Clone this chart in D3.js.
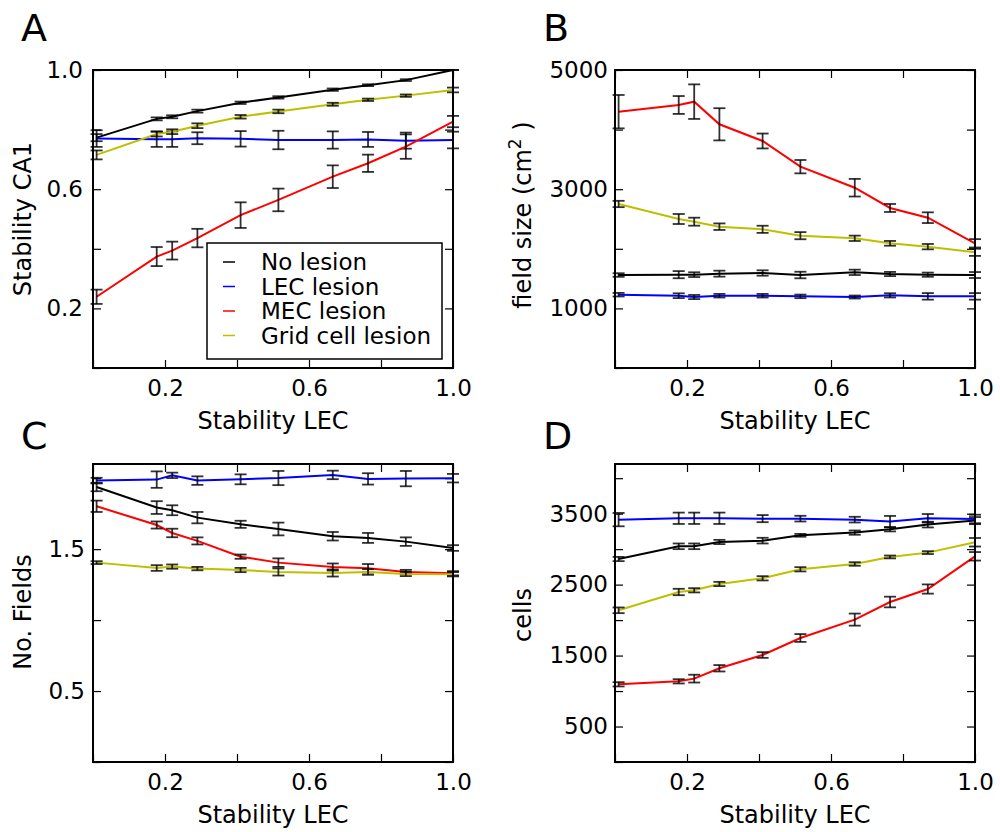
<!DOCTYPE html>
<html lang="en">
<head>
	<meta charset="utf-8">
	<title>Lesion stability panels</title>
	<script src="https://cdn.jsdelivr.net/npm/d3@7"></script>
	<style>
		body {
		    margin: 0;
		    background: #fff;
		    font-family: "DejaVu Sans", sans-serif;
		}
		.tick text {
		    font-size: 23px;
		    font-family: "DejaVu Sans", sans-serif;
		    fill: #000;
		}
		.tick line {
		    stroke: #000;
		    stroke-width: 1.2;
		}
		.axis path.domain {
		    display: none;
		}
		.frame {
		    fill: none;
		    stroke: #000;
		    stroke-width: 2;
		}
		.series {
		    fill: none;
		    stroke-width: 2;
		}
		.err {
		    stroke: #000;
		    stroke-width: 1.8;
		    opacity: 0.8;
		}
		.label {
		    font-size: 24px;
		}
		.letter {
		    font-size: 38px;
		}
	</style>
</head>
<body>
	<script>
		// x positions (Stability LEC), shared by all panels
		var xStab = [0.01, 0.177, 0.22, 0.29, 0.41, 0.515, 0.666, 0.764, 0.869, 1.0];

		var seriesNames = ["No lesion", "LEC lesion", "MEC lesion", "Grid cell lesion"];
		var seriesColors = ["#000000", "#0000ff", "#ff0000", "#bfbf00"];

		// A: Stability CA1
		var stabNo = [0.773, 0.836, 0.843, 0.862, 0.890, 0.908, 0.934, 0.949, 0.966, 1.0];
		var stabNoErr = [0.012, 0.005, 0.005, 0.005, 0.004, 0.004, 0.004, 0.003, 0.003, 0.0];
		var stabLec = [0.770, 0.768, 0.768, 0.771, 0.769, 0.765, 0.765, 0.767, 0.763, 0.765];
		var stabLecErr = [0.028, 0.026, 0.026, 0.02, 0.026, 0.031, 0.029, 0.025, 0.027, 0.028];
		var stabMec = [0.239, 0.374, 0.394, 0.436, 0.513, 0.564, 0.642, 0.687, 0.743, 0.827];
		var stabMecErr = [0.024, 0.032, 0.03, 0.031, 0.043, 0.038, 0.038, 0.029, 0.041, 0.019];
		var stabGrid = [0.715, 0.785, 0.793, 0.813, 0.843, 0.861, 0.885, 0.900, 0.914, 0.933];
		var stabGridErr = [0.015, 0.008, 0.008, 0.008, 0.006, 0.006, 0.005, 0.004, 0.004, 0.008];

		// B: field size (cm2)
		var sizeNo = [1560, 1566, 1566, 1583, 1594, 1560, 1605, 1577, 1566, 1560];
		var sizeNoErr = [30, 60, 40, 50, 45, 55, 45, 35, 35, 50];
		var sizeLec = [1230, 1213, 1191, 1213, 1213, 1202, 1191, 1219, 1202, 1202];
		var sizeLecErr = [30, 40, 35, 30, 30, 30, 25, 35, 55, 55];
		var sizeMec = [4301, 4413, 4469, 4089, 3809, 3378, 3025, 2685, 2522, 2092];
		var sizeMecErr = [280, 150, 290, 270, 125, 112, 148, 67, 90, 70];
		var sizeGrid = [2752, 2500, 2455, 2371, 2327, 2220, 2176, 2092, 2036, 1941];
		var sizeGridErr = [53, 84, 67, 55, 60, 60, 45, 40, 45, 60];

		// C: No. Fields
		var fieldsNo = [1.938, 1.793, 1.774, 1.722, 1.675, 1.642, 1.591, 1.579, 1.553, 1.508];
		var fieldsNoErr = [0.03, 0.045, 0.035, 0.04, 0.025, 0.045, 0.03, 0.035, 0.03, 0.02];
		var fieldsLec = [1.983, 1.990, 2.020, 1.983, 1.992, 2.001, 2.023, 1.995, 1.997, 2.0];
		var fieldsLecErr = [0.02, 0.058, 0.019, 0.03, 0.035, 0.05, 0.03, 0.04, 0.054, 0.03];
		var fieldsMec = [1.802, 1.670, 1.614, 1.558, 1.447, 1.405, 1.374, 1.365, 1.339, 1.330];
		var fieldsMecErr = [0.04, 0.025, 0.03, 0.025, 0.015, 0.03, 0.025, 0.03, 0.015, 0.015];
		var fieldsGrid = [1.405, 1.367, 1.377, 1.363, 1.353, 1.339, 1.332, 1.339, 1.325, 1.323];
		var fieldsGridErr = [0.01, 0.02, 0.015, 0.012, 0.015, 0.025, 0.025, 0.02, 0.015, 0.015];

		// D: cells
		var cellsNo = [2861, 3040, 3040, 3101, 3120, 3195, 3233, 3280, 3346, 3402];
		var cellsNoErr = [30, 40, 40, 30, 40, 20, 30, 30, 40, 50];
		var cellsLec = [3416, 3435, 3435, 3435, 3430, 3430, 3416, 3388, 3435, 3425];
		var cellsLecErr = [94, 80, 80, 80, 50, 40, 40, 80, 60, 60];
		var cellsMec = [1095, 1137, 1175, 1321, 1508, 1748, 2007, 2255, 2438, 2899];
		var cellsMecErr = [30, 30, 55, 45, 40, 55, 85, 75, 65, 60];
		var cellsGrid = [2138, 2396, 2420, 2509, 2589, 2716, 2791, 2890, 2951, 3097];
		var cellsGridErr = [40, 45, 30, 30, 30, 30, 25, 20, 20, 60];

		// tick values and which ones carry a label
		var xTicks = [0, 0.2, 0.4, 0.6, 0.8, 1.0];
		var xTickLabels = [0.2, 0.6, 1.0];
		var yTicksA = [0, 0.2, 0.4, 0.6, 0.8, 1.0];
		var yLabelsA = [0.2, 0.6, 1.0];
		var yTicksB = [0, 1000, 2000, 3000, 4000, 5000];
		var yLabelsB = [1000, 3000, 5000];
		var yTicksC = [0, 0.5, 1.0, 1.5, 2.0];
		var yLabelsC = [0.5, 1.5];
		var yTicksD = [0, 500, 1000, 1500, 2000, 2500, 3000, 3500, 4000];
		var yLabelsD = [500, 1500, 2500, 3500];

		var width = 1000;
		var height = 832;
		var pw = 360, ph = 298;

		var svg = d3.select("body")
		    .append("svg")
		    .attr("width", width)
		    .attr("height", height);

		var panels = [
			{ letter: "A", left: 93, top: 70, ymax: 1.0, yTicks: yTicksA, yLabels: yLabelsA, fmt: d3.format(".1f"), pad: 10,
			  series: [[stabNo, stabNoErr], [stabLec, stabLecErr], [stabMec, stabMecErr], [stabGrid, stabGridErr]] },
			{ letter: "B", left: 615, top: 70, ymax: 5000, yTicks: yTicksB, yLabels: yLabelsB, fmt: d3.format("d"), pad: 7,
			  series: [[sizeNo, sizeNoErr], [sizeLec, sizeLecErr], [sizeMec, sizeMecErr], [sizeGrid, sizeGridErr]] },
			{ letter: "C", left: 93, top: 464, ymax: 2.1, yTicks: yTicksC, yLabels: yLabelsC, fmt: d3.format(".1f"), pad: 8,
			  series: [[fieldsNo, fieldsNoErr], [fieldsLec, fieldsLecErr], [fieldsMec, fieldsMecErr], [fieldsGrid, fieldsGridErr]] },
			{ letter: "D", left: 615, top: 464, ymax: 4200, yTicks: yTicksD, yLabels: yLabelsD, fmt: d3.format("d"), pad: 7,
			  series: [[cellsNo, cellsNoErr], [cellsLec, cellsLecErr], [cellsMec, cellsMecErr], [cellsGrid, cellsGridErr]] }
		];

		panels.forEach(function(p) {
			var g = svg.append("g").attr("transform", "translate(" + p.left + "," + p.top + ")");
			var x = d3.scaleLinear().domain([0, 1]).range([0, pw]);
			var y = d3.scaleLinear().domain([0, p.ymax]).range([ph, 0]);

			var xfmt = function(d) { return xTickLabels.indexOf(d) >= 0 ? d3.format(".1f")(d) : ""; };
			var yfmt = function(d) { return p.yLabels.indexOf(d) >= 0 ? p.fmt(d) : ""; };

			// inward ticks on all four sides
			g.append("g").attr("class", "axis").attr("transform", "translate(0," + ph + ")")
				.call(d3.axisBottom(x).tickValues(xTicks).tickSize(-8).tickPadding(12).tickFormat(xfmt));
			g.append("g").attr("class", "axis")
				.call(d3.axisTop(x).tickValues(xTicks).tickSize(-8).tickFormat(""));
			g.append("g").attr("class", "axis")
				.call(d3.axisLeft(y).tickValues(p.yTicks).tickSize(-8).tickPadding(p.pad).tickFormat(yfmt));
			g.append("g").attr("class", "axis").attr("transform", "translate(" + pw + ",0)")
				.call(d3.axisRight(y).tickValues(p.yTicks).tickSize(-8).tickFormat(""));

			var line = d3.line()
				.x(function(d) { return x(d[0]); })
				.y(function(d) { return y(d[1]); });

			p.series.forEach(function(s, i) {
				var pts = xStab.map(function(xv, k) { return [xv, s[0][k], s[1][k]]; });
				g.append("path")
					.datum(pts)
					.attr("class", "series")
					.attr("stroke", seriesColors[i])
					.attr("d", line);

				var bars = g.append("g");
				pts.forEach(function(d) {
					var cx = x(d[0]), y0 = y(d[1] - d[2]), y1 = y(d[1] + d[2]);
					bars.append("line").attr("class", "err")
						.attr("x1", cx).attr("x2", cx).attr("y1", y0).attr("y2", y1);
					bars.append("line").attr("class", "err")
						.attr("x1", cx - 6).attr("x2", cx + 6).attr("y1", y0).attr("y2", y0);
					bars.append("line").attr("class", "err")
						.attr("x1", cx - 6).attr("x2", cx + 6).attr("y1", y1).attr("y2", y1);
				});
			});

			g.append("rect").attr("class", "frame").attr("width", pw).attr("height", ph);

			g.append("text").attr("class", "label")
				.attr("x", pw / 2).attr("y", ph + 61)
				.attr("text-anchor", "middle")
				.text("Stability LEC");

			svg.append("text").attr("class", "letter")
				.attr("x", p.left - 72).attr("y", p.top - 29 + (p.top > 100 ? 14 : 0))
				.text(p.letter);
		});

		// y axis labels
		function yLabel(x, y, txt) {
			return svg.append("text").attr("class", "label")
				.attr("transform", "translate(" + x + "," + y + ") rotate(-90)")
				.attr("text-anchor", "middle")
				.text(txt);
		}
		yLabel(31, 219, "Stability CA1");
		var fs = yLabel(531, 215, "field size (cm");
		fs.append("tspan").attr("dy", -10).attr("font-size", 17).text("2");
		fs.append("tspan").attr("dy", 10).text(" )");
		yLabel(31, 612, "No. Fields");
		yLabel(531, 615, "cells");

		// legend in panel A
		var leg = svg.append("g").attr("transform", "translate(207,243)");
		leg.append("rect").attr("width", 235).attr("height", 116)
			.attr("fill", "#fff").attr("stroke", "#000").attr("stroke-width", 1.5);
		seriesNames.forEach(function(name, i) {
			var cy = 19 + i * 24.5;
			leg.append("line").attr("x1", 16).attr("x2", 28).attr("y1", cy).attr("y2", cy)
				.attr("stroke", seriesColors[i]).attr("stroke-width", 1.5);
			leg.append("text").attr("x", 54).attr("y", cy + 8.4)
				.attr("font-size", 23).text(name);
		});
	</script>
</body>
</html>
